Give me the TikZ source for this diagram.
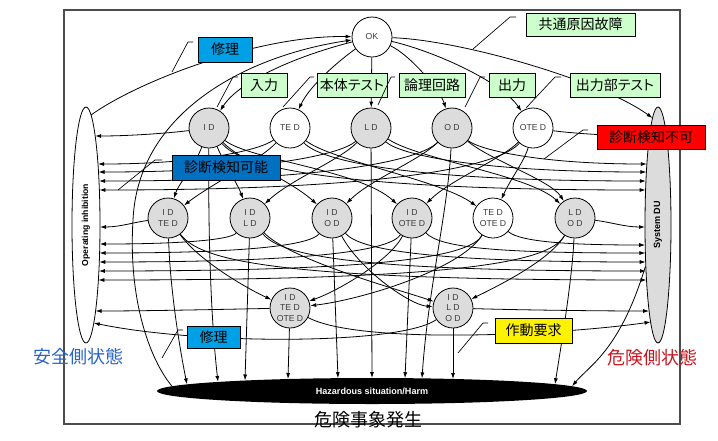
\documentclass[tikz,border=0pt]{standalone}
\usepackage{fontspec}
\setmainfont{Liberation Sans}
\newfontfamily\jpf{Noto Sans CJK JP}
\newfontfamily\jpp{Noto Sans CJK JP}[RawFeature=+palt]
\usetikzlibrary{arrows.meta,shapes.geometric}
\definecolor{lgreen}{RGB}{204,255,204}
\definecolor{cyanb}{RGB}{0,160,230}
\definecolor{dblue}{RGB}{0,112,192}
\definecolor{safeblue}{RGB}{40,100,200}
\definecolor{dangred}{RGB}{200,20,30}
\definecolor{stgray}{RGB}{220,220,220}
\definecolor{txtgray}{RGB}{60,60,60}
\begin{document}
\begin{tikzpicture}[x=0.75pt,y=-0.75pt,
 st/.style={circle,draw,line width=0.6pt,minimum size=30pt,inner sep=0pt,fill=stgray,align=center,font=\fontsize{6.5}{7.6}\selectfont,text=txtgray},
 stw/.style={st,fill=white},
 lab/.style={draw,line width=0.6pt,inner sep=0pt,minimum height=18pt,font=\jpf\fontsize{10.5}{12}\selectfont},
 labp/.style={lab,font=\jpp\fontsize{10.5}{12}\selectfont},
 arr/.style={line width=0.6pt,-{Latex[length=4.5pt,width=3pt]}},
 lead/.style={line width=0.5pt},
 side/.style={ellipse,draw,line width=0.6pt,inner sep=0pt,minimum width=21pt,minimum height=177pt}]
\useasboundingbox (0,0) rectangle (718,440);
\draw[line width=0.8pt,black!70] (64,10) rectangle (680,424);

% end points on the three ellipses
\foreach \n/\x/\y in {172/172/386.2,187/187/384.4,218/218/381.9,245/245/380.5,288/288/379,338/338/378.2,372/372/378,405/405/378.2,422/422/378.4,453/453/379,555/555/384.2,572/572/386.2}
  \coordinate (hz\n) at (\x,\y);
\foreach \n/\x in {136/95.2,164/98,172/98.5,181/99,190/99.4,227/100,244/99.8,253/99.6,262/99.3,271/98.9,280/98.4,311/95.6,323/93.8}
  \coordinate (oi\n) at (\x,\n);
\foreach \n/\x in {118/652.5,136/649.5,164/646.9,172/646.4,181/645.9,190/645.6,227/645,245/645.2,253/645.4,262/645.7,271/646,280/646.5,311/649.1,322/650.6}
  \coordinate (sd\n) at (\x,\n);
\coordinate (oitop) at (91,115);

% nodes
\node[side,fill=white] (OI) at (86,225) {};
\node[rotate=90,font=\bfseries\fontsize{6.5}{8}\selectfont] (OItxt) at (86,225) {Operating inhibition};
\node[side,fill=stgray,minimum width=19.5pt] (SD) at (658,225) {};
\node[rotate=90,font=\bfseries\fontsize{6.8}{8}\selectfont] (SDtxt) at (658,225) {System DU};
\node[ellipse,fill=black,inner sep=0pt,minimum width=322.5pt,minimum height=19.5pt,text=white,font=\bfseries\fontsize{6.8}{8}\selectfont] (HZ) at (372,391) {Hazardous situation/Harm};

\node[stw] (OK) at (372,37) {OK};
\node[st] (ID) at (209,128) {I D};
\node[stw] (TED) at (290,128) {TE D};
\node[st] (LD) at (371,128) {L D};
\node[st] (OD) at (452,128) {O D};
\node[stw] (OTED) at (533,128) {OTE D};
\node[st] (IDTED) at (168,218) {I D\\TE D};
\node[st] (IDLD) at (250,218) {I D\\L D};
\node[st] (IDOD) at (332,218) {I D\\O D};
\node[st] (IDOTED) at (412,218) {I D\\OTE D};
\node[stw] (TEDOTED) at (493,218) {TE D\\OTE D};
\node[st] (LDOD) at (575,218) {L D\\O D};
\node[st] (IDTEDOTED) at (290,308) {I D\\TE D\\OTE D};
\node[st] (IDLDOD) at (453,308) {I D\\L D\\O D};

% OK transitions
\draw[arr] (oitop) .. controls (140,80) and (260,35) .. (OK);
\draw[arr] (hz172) .. controls (150,360) and (128,300) .. (133,220) .. controls (138,110) and (250,55) .. (OK);
\draw[arr] (OK) .. controls (300,55) and (240,80) .. (ID);
\draw[arr] (OK) .. controls (340,60) and (310,85) .. (TED);
\draw[arr] (OK) -- (LD);
\draw[arr] (OK) .. controls (410,55) and (440,90) .. (OD);
\draw[arr] (OK) .. controls (430,50) and (500,80) .. (OTED);
\draw[arr] (OK) .. controls (460,40) and (600,80) .. (sd118);

% level 1 -> operating inhibition
\draw[arr] (ID) .. controls (170,133) and (130,136) .. (oi136);
\draw[arr] (TED) .. controls (260,150) and (200,164) .. (oi164);
\draw[arr] (LD) .. controls (340,155) and (260,172) .. (oi172);
\draw[arr] (OD) .. controls (420,160) and (330,181) .. (oi181);
\draw[arr] (OTED) .. controls (500,165) and (400,190) .. (oi190);
% level 1 -> system DU
\draw[arr] (OTED) .. controls (570,133) and (610,136) .. (sd136);
\draw[arr] (OD) .. controls (480,150) and (540,164) .. (sd164);
\draw[arr] (LD) .. controls (400,155) and (480,172) .. (sd172);
\draw[arr] (TED) .. controls (320,160) and (400,181) .. (sd181);
\draw[arr] (ID) .. controls (240,165) and (320,190) .. (sd190);
% level 1 -> level 2
\draw[arr] (ID) .. controls (195,165) and (178,185) .. (IDTED);
\draw[arr] (ID) .. controls (225,165) and (238,185) .. (IDLD);
\draw[arr] (ID) .. controls (240,160) and (290,180) .. (IDOD);
\draw[arr] (ID) .. controls (250,160) and (360,170) .. (IDOTED);
\draw[arr] (TED) .. controls (260,160) and (210,185) .. (IDTED);
\draw[arr] (TED) .. controls (330,160) and (440,180) .. (TEDOTED);
\draw[arr] (LD) .. controls (340,160) and (290,180) .. (IDLD);
\draw[arr] (LD) .. controls (420,160) and (530,175) .. (LDOD);
\draw[arr] (OD) .. controls (420,160) and (370,180) .. (IDOD);
\draw[arr] (OD) .. controls (490,160) and (550,180) .. (LDOD);
\draw[arr] (OTED) .. controls (500,160) and (450,180) .. (IDOTED);
\draw[arr] (OTED) .. controls (525,160) and (510,180) .. (TEDOTED);
% level 2 -> operating inhibition
\draw[arr] (IDTED) .. controls (135,222) and (120,227) .. (oi227);
\draw[arr] (IDLD) .. controls (230,240) and (180,244) .. (oi244);
\draw[arr] (IDOD) .. controls (310,245) and (250,253) .. (oi253);
\draw[arr] (IDOTED) .. controls (390,250) and (320,262) .. (oi262);
\draw[arr] (TEDOTED) .. controls (470,255) and (400,271) .. (oi271);
\draw[arr] (LDOD) .. controls (550,260) and (480,280) .. (oi280);
% level 2 -> system DU
\draw[arr] (LDOD) .. controls (610,222) and (625,227) .. (sd227);
\draw[arr] (TEDOTED) .. controls (520,242) and (570,245) .. (sd245);
\draw[arr] (IDOTED) .. controls (440,248) and (500,253) .. (sd253);
\draw[arr] (IDOD) .. controls (360,250) and (430,262) .. (sd262);
\draw[arr] (IDLD) .. controls (280,255) and (350,271) .. (sd271);
\draw[arr] (IDTED) .. controls (200,260) and (270,280) .. (sd280);
% level 2 -> level 3
\draw[arr] (IDTED) .. controls (200,262) and (250,290) .. (IDTEDOTED);
\draw[arr] (IDOTED) .. controls (390,260) and (340,290) .. (IDTEDOTED);
\draw[arr] (TEDOTED) .. controls (460,270) and (360,300) .. (IDTEDOTED);
\draw[arr] (IDLD) .. controls (290,260) and (400,290) .. (IDLDOD);
\draw[arr] (IDOD) .. controls (360,270) and (410,305) .. (IDLDOD);
\draw[arr] (LDOD) .. controls (550,260) and (500,285) .. (IDLDOD);
% level 3 -> sides
\draw[arr] (IDTEDOTED) .. controls (240,309) and (150,311) .. (oi311);
\draw[arr] (IDTEDOTED) .. controls (360,345) and (560,335) .. (sd322);
\draw[arr] (IDLDOD) .. controls (520,310) and (600,311) .. (sd311);
\draw[arr] (IDLDOD) .. controls (400,345) and (200,345) .. (oi323);
% -> hazardous situation
\draw[arr] (IDTED) .. controls (170,290) and (180,350) .. (hz187);
\draw[arr] (ID) .. controls (208,250) and (212,330) .. (hz218);
\draw[arr] (IDLD) -- (hz245);
\draw[arr] (IDTEDOTED) -- (hz288);
\draw[arr] (IDOD) -- (hz338);
\draw[arr] (LD) -- (hz372);
\draw[arr] (IDOTED) -- (hz405);
\draw[arr] (OD) .. controls (448,210) and (428,290) .. (hz422);
\draw[arr] (IDLDOD) -- (hz453);
\draw[arr] (LDOD) .. controls (572,280) and (562,340) .. (hz555);
\draw[arr] (SD) .. controls (620,350) and (590,365) .. (hz572);

% label boxes
\node[lab,fill=cyanb,minimum width=40.5pt,minimum height=18.75pt] (rep1) at (225,49.5) {修理};
\node[lab,fill=lgreen,minimum width=34.5pt] (inp) at (264,85) {入力};
\node[labp,fill=lgreen,minimum width=52.5pt] (bodyt) at (352,85) {本体テスト};
\node[lab,fill=lgreen,minimum width=49.5pt] (logic) at (432,85) {論理回路};
\node[lab,fill=lgreen,minimum width=34.5pt] (outp) at (512,85) {出力};
\node[labp,fill=lgreen,minimum width=67.5pt] (outt) at (615,85) {出力部テスト};
\node[lab,fill=lgreen,minimum width=81.75pt,minimum height=17.25pt] (ccf) at (580.5,24.5) {共通原因故障};
\node[lab,fill=red,minimum width=81pt] (undet) at (651,137) {診断検知不可};
\node[lab,fill=dblue,minimum width=81pt,minimum height=18.75pt] (det) at (226,167.5) {診断検知可能};
\node[lab,fill=cyanb,minimum width=39.75pt,minimum height=16.5pt] (rep2) at (213.5,337) {修理};
\node[lab,fill=yellow,minimum width=57.75pt,minimum height=18.75pt] (dem) at (533.5,330.5) {作動要求};

% leader lines
\foreach \a/\b/\c/\d/\e in {193/42/188/172/72, 238/77/233/217/107, 314/77/310/283/107, 395/77/391/378/105, 485/77/480/465/107, 561/77/555/526/108, 516/17/510/473/49, 588/130/583/544/159, 162/160/155/118/190, 183/330/178/162/358, 488/323/483/458/353}
  \draw[lead] (\a,\b) -- (\c,\b) -- (\d,\e);

% state texts
\node[text=safeblue,font=\jpf\fontsize{13.5}{15}\selectfont] (safe) at (78,357) {安全側状態};
\node[text=dangred,font=\jpf\fontsize{13.5}{15}\selectfont] (dang) at (652,358) {危険側状態};
\node[font=\jpf\fontsize{13.5}{15}\selectfont] (hazev) at (368,420) {危険事象発生};
\end{tikzpicture}
\end{document}
